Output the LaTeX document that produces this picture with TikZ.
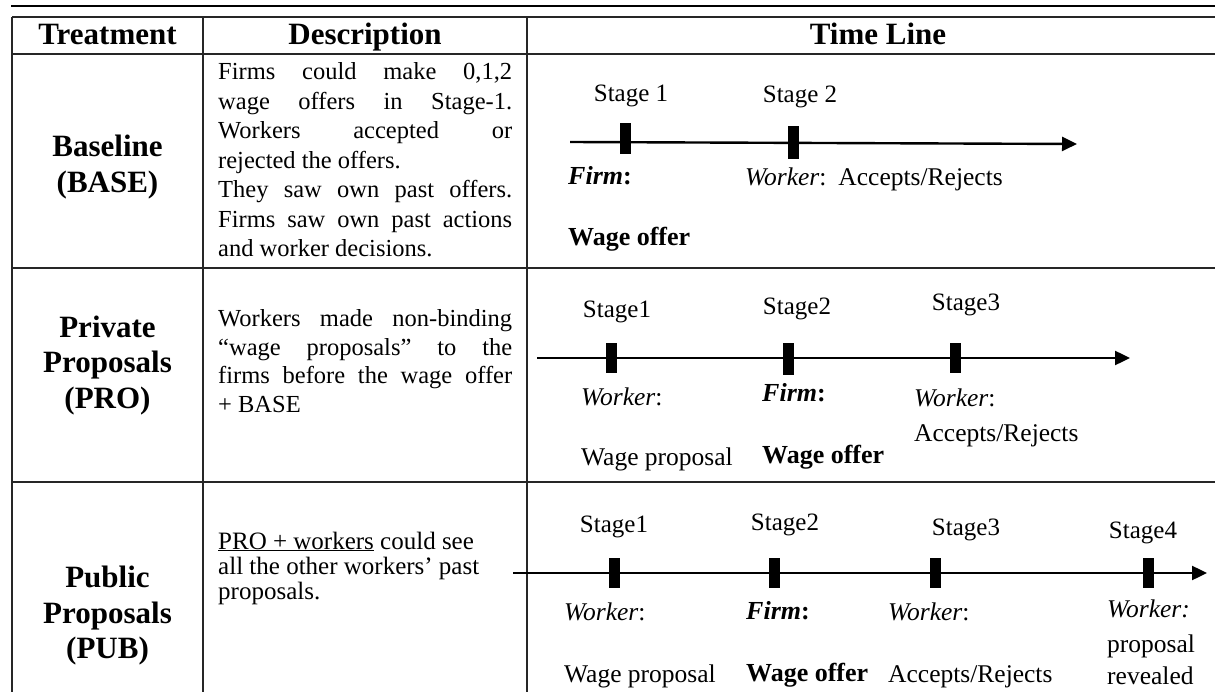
\documentclass[tikz,border=0pt]{standalone}
\usepackage{fontspec}
\setmainfont{Liberation Serif}
\usetikzlibrary{arrows.meta}
\begin{document}
\begin{tikzpicture}[x=1pt,y=-1pt,
  rule/.style={line width=1.3pt, draw=black!85},
  hdr/.style={font=\fontsize{31}{33}\selectfont\bfseries, inner sep=0, anchor=base},
  desc/.style={font=\fontsize{24.5}{28}\selectfont, inner sep=0, anchor=base west},
  tl/.style={font=\fontsize{25.5}{28}\selectfont, inner sep=0, anchor=base west},
  tlb/.style={font=\fontsize{26}{28}\selectfont\bfseries, inner sep=0, anchor=base west},
  stg/.style={font=\fontsize{25}{28}\selectfont, inner sep=0, anchor=base},
  tickbox/.style={fill=black, inner sep=0, minimum width=11pt, minimum height=30pt},
  axis/.style={line width=2.4pt, -{Triangle[length=15pt,width=14pt]}},
]
\useasboundingbox (0,0) rectangle (1215,692);
\clip (0,0) rectangle (1215,692);
\fill[white] (0,0) rectangle (1215,692);
% rules
\draw[line width=2.4pt] (11,6) -- (1215,6);
\draw[rule] (12,17) -- (1229,17);
\draw[rule] (12,54) -- (1229,54);
\draw[rule] (12,268) -- (1229,268);
\draw[rule] (12,482) -- (1229,482);
\draw[rule] (12,17) -- (12,700);
\draw[rule] (203,17) -- (203,700);
\draw[rule] (527,17) -- (527,700);
\draw[rule] (1229,17) -- (1229,700);
% header
\node[hdr] (h1) at (107.5,45) {Treatment};
\node[hdr] (h2) at (365,45) {Description};
\node[hdr] (h3) at (878,45) {Time Line};
% treatment labels
\node[hdr] (l1a) at (107.5,157) {Baseline};
\node[hdr] (l1b) at (107.5,193) {(BASE)};
\node[hdr] (l2a) at (107.5,338) {Private};
\node[hdr] (l2b) at (107.5,373) {Proposals};
\node[hdr] (l2c) at (107.5,408) {(PRO)};
\node[hdr] (l3a) at (107.5,587) {Public};
\node[hdr] (l3b) at (107.5,623) {Proposals};
\node[hdr] (l3c) at (107.5,658) {(PUB)};
% descriptions
\node[desc] (b1) at (218,80) {\makebox[294pt][s]{Firms could make 0,1,2}};
\node[desc] (b2) at (218,109.5) {\makebox[294pt][s]{wage offers in Stage-1.}};
\node[desc] (b3) at (218,139) {\makebox[294pt][s]{Workers accepted or}};
\node[desc] (b4) at (218,168.5) {rejected the offers.};
\node[desc] (b5) at (218,198) {\makebox[294pt][s]{They saw own past offers.}};
\node[desc] (b6) at (218,227.5) {\makebox[294pt][s]{Firms saw own past actions}};
\node[desc] (b7) at (218,257) {and worker decisions.};
\node[desc] (p1) at (218,327) {\makebox[294pt][s]{Workers made non-binding}};
\node[desc] (p2) at (218,355.5) {\makebox[294pt][s]{“wage proposals” to the}};
\node[desc] (p3) at (218,384) {\makebox[294pt][s]{firms before the wage offer}};
\node[desc] (p4) at (218,412.5) {+ BASE};
\node[desc, font=\fontsize{25}{28}\selectfont] (u1) at (218,549) {\underline{PRO + workers} could see};
\node[desc, font=\fontsize{25}{28}\selectfont] (u2) at (218,574) {all the other workers’ past};
\node[desc, font=\fontsize{25}{28}\selectfont] (u3) at (218,599) {proposals.};
% BASE time line
\coordinate (a1s) at (570,142);
\coordinate (a1e) at (1077,144);
\draw[axis] (a1s) -- (a1e);
\node[tickbox, minimum height=31pt] (t11) at (625,138.5) {};
\node[tickbox, minimum height=33pt] (t12) at (793,142.5) {};
\node[stg] (s11) at (631,102) {Stage 1};
\node[stg] (s12) at (800,103) {Stage 2};
\node[tlb] (f11) at (568,185) {\itshape Firm\upshape:};
\node[tl] (w12) at (745,186) {\textit{Worker}:\hspace{12pt}Accepts/Rejects};
\node[tlb] (o11) at (568,246) {Wage offer};
% PRO time line
\coordinate (a2s) at (537,358);
\coordinate (a2e) at (1130,358);
\draw[axis] (a2s) -- (a2e);
\node[tickbox] (t21) at (611,358) {};
\node[tickbox, minimum height=32pt] (t22) at (788,359) {};
\node[tickbox] (t23) at (955,358) {};
\node[stg] (s21) at (617,318) {Stage1};
\node[stg] (s22) at (797,315) {Stage2};
\node[stg] (s23) at (966,311) {Stage3};
\node[tl] (w21) at (581,405) {\textit{Worker}:};
\node[tlb] (f22) at (762,401) {\itshape Firm\upshape:};
\node[tl] (w23) at (914,406) {\textit{Worker}:};
\node[tl] (r23) at (914,441) {Accepts/Rejects};
\node[tl] (q21) at (581,465) {Wage proposal};
\node[tlb] (o22) at (762,463) {Wage offer};
% PUB time line
\coordinate (a3s) at (513,573);
\coordinate (a3e) at (1207,573);
\draw[axis] (a3s) -- (a3e);
\node[tickbox] (t31) at (614,573) {};
\node[tickbox] (t32) at (774,573) {};
\node[tickbox] (t33) at (935,573) {};
\node[tickbox] (t34) at (1148,573) {};
\node[stg] (s31) at (614,532) {Stage1};
\node[stg] (s32) at (785,530) {Stage2};
\node[stg] (s33) at (966,535) {Stage3};
\node[stg] (s34) at (1143,538) {Stage4};
\node[tl] (w31) at (564,620) {\textit{Worker}:};
\node[tlb] (f32) at (746,619) {\itshape Firm\upshape:};
\node[tl] (w33) at (888,620) {\textit{Worker}:};
\node[tl] (w34) at (1107,617) {\textit{Worker:}};
\node[tl] (q31) at (564,682) {Wage proposal};
\node[tlb] (o32) at (746,681) {Wage offer};
\node[tl] (r33) at (888,682) {Accepts/Rejects};
\node[tl] (v34a) at (1107,652) {proposal};
\node[tl] (v34b) at (1107,684) {revealed};
\end{tikzpicture}
\end{document}
